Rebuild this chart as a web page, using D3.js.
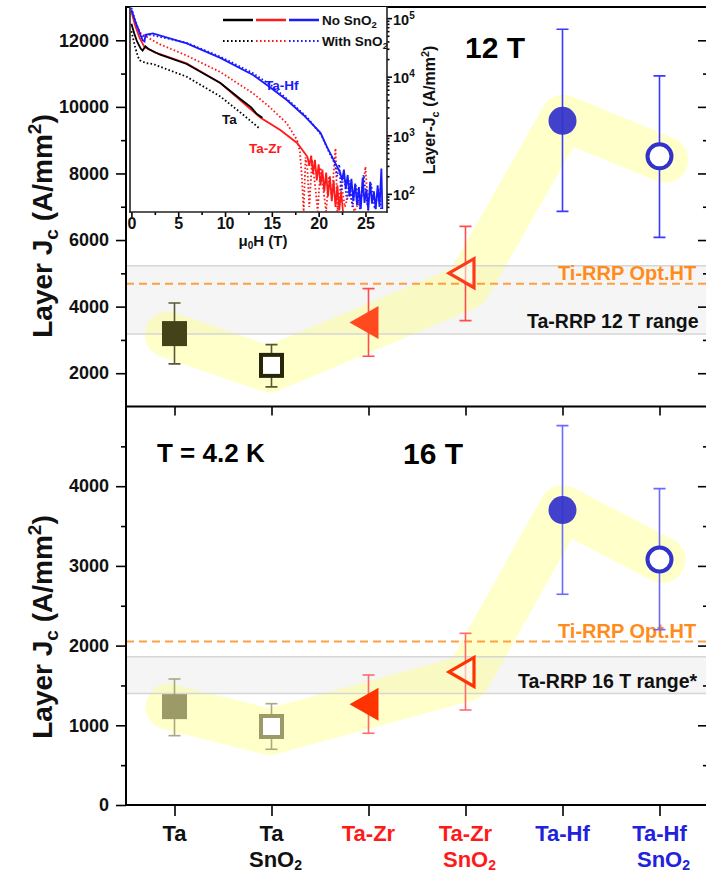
<!DOCTYPE html>
<html>
<head>
<meta charset="utf-8">
<script src="https://cdn.jsdelivr.net/npm/d3@7"></script>
<style>
  body { margin: 0; background: #fff; }
  svg { font-family: "Liberation Sans", Arial, sans-serif; font-weight: bold; }
</style>
</head>
<body>
<svg id="chart" width="706" height="874"></svg>
<script>
// ---- data ----
const categories = ["Ta", "Ta", "Ta-Zr", "Ta-Zr", "Ta-Hf", "Ta-Hf"]
const withSnO2 = [false, true, false, true, false, true]

const jc12 = [3190, 2235, 3520, 5005, 9580, 8515]
const jc12Hi = [4110, 2860, 4540, 6410, 12330, 10930]
const jc12Lo = [2280, 1590, 2510, 3580, 6860, 6080]

const jc16 = [1234, 985, 1263, 1669, 3700, 3080]
const jc16Hi = [1581, 1271, 1631, 2154, 4760, 3970]
const jc16Lo = [870, 699, 900, 1192, 2644, 2200]

// yellow guide band, [category position, Jc]
const band12 = [[-0.07, 3160], [0.98, 2110], [3.02, 4600], [4.01, 9670], [5.06, 8410]]
const band16 = [[-0.06, 1230], [0.98, 916], [3.02, 1594], [4.0, 3726], [5.03, 3074]]

const taRange12 = [3180, 5230], taRange16 = [1400, 1860]
const tiRRP12 = 4690, tiRRP16 = 2050

const ticks12 = [2000, 4000, 6000, 8000, 10000, 12000]
const ticks16 = [0, 1000, 2000, 3000, 4000]

// inset: [mu0H (T), layer Jc (A/mm2)]
const insetTa = [[0,80000],[0.3,55000],[0.6,40000],[1.0,30000],[1.2,28000],[1.5,33000],[1.8,30000],[3,24000],[5.9,16500],[9.5,7800],[11.6,4200],[12.8,3000],[13.4,2300],[14.0,2000]]
const insetTaSn = [[0,60000],[0.4,32000],[0.7,22000],[0.9,19000],[1.6,17000],[2.3,16500],[5.9,10000],[9.5,4600],[12.0,2200],[13.7,1300]]
const insetZr = [[0,130000],[0.4,75000],[0.9,45000],[1.4,32000],[2.5,26000],[5.9,17000],[9.5,7800],[11.6,4000],[13.8,2000],[15.9,1230],[17.7,740],[18.8,430],
  [19.0,300],[19.2,450],[19.4,220],[19.6,380],[19.8,170],[20.0,320],[20.2,140],[20.4,260],[20.6,110],[20.8,230],[21.0,90],[21.2,200],[21.4,75],[21.6,170],[21.8,60],[22.0,140],[22.2,52],[22.4,110],[22.6,50]]
const insetZrSn = [[0,130000],[0.5,80000],[1.0,55000],[1.6,48000],[3,36000],[5.9,23000],[9.5,12000],[13.0,5200],[14.8,3000],[16.6,1600],[17.7,830],
  [18.0,520],[18.2,200],[18.4,50],[18.6,420],[18.8,260],[19.0,60],[19.3,380],[19.6,150],[19.9,50],[20.2,280],[20.5,120],[20.8,50],[21.1,200],[21.4,90],[21.8,600],[22.0,50],[22.4,160],[22.8,60],[23.3,110],[23.8,50],[24.6,90],[25.0,290],[25.3,50]]
const insetHf = [[0,140000],[0.4,90000],[0.9,55000],[1.2,42000],[1.4,40000],[1.5,52000],[2.3,55000],[5.9,37000],[9.5,21000],[13.0,10700],[14.8,6600],[16.6,4000],[18.4,2200],[20.2,1100],[20.9,630],[21.6,380],[22.3,230],
  [22.5,170],[22.7,260],[22.9,120],[23.1,210],[23.3,90],[23.5,180],[23.7,75],[23.9,150],[24.1,65],[24.3,130],[24.5,55],[24.7,190],[24.9,70],[25.1,120],[25.3,52],[25.5,160],[25.7,68],[25.9,110],[26.1,55],[26.3,140],[26.5,60],[26.7,270],[26.8,55]]
const insetHfSn = [[0,150000],[0.5,80000],[0.9,55000],[1.3,48000],[2,52000],[5.9,38000],[9.5,22000],[13,11500],[15,7000],[17,3700],[18.8,2000],[20.3,1000],[21.0,560],[21.7,330],
  [22.0,200],[22.2,320],[22.4,110],[22.7,220],[23.0,80],[23.3,170],[23.6,60],[24.0,140],[24.4,55],[24.8,210],[25.2,65],[25.6,150],[26.0,55],[26.4,120],[26.7,50]]
const insetTicksX = [0, 5, 10, 15, 20, 25]
const insetTicksY = [100, 1000, 10000, 100000]

// ---- styles ----
const labelColors = ["#111", "#111", "#ff1a1a", "#ff1a1a", "#2222dd", "#2222dd"]
const shapes = ["square", "square", "triangle", "triangle", "circle", "circle"]
const markColors12 = ["#45421a", "#27260a", "#ff4a1f", "#ff3a1a", "#3333cc", "#3333cc"]
const errColors12 = ["#5a5830", "#5a5830", "#ff4d4d", "#ff4d4d", "#3a3aff", "#3a3aff"]
const markColors16 = ["#9c9a66", "#9c9a66", "#ff3300", "#ff3300", "#3333cc", "#3333cc"]
const errColors16 = ["#aaa87c", "#aaa87c", "#ff6a6a", "#ff6a6a", "#6a6aff", "#6a6aff"]

const svg = d3.select("#chart")
const L = 126, R = 708, T = 7, MID = 406.5, B = 805

const x = d3.scaleLinear().domain([-0.5, 5.5]).range([L, R])
const yTop = d3.scaleLinear().domain([1000, 13000]).range([MID, T])
const yBot = d3.scaleLinear().domain([0, 5000]).range([B, MID])

const drawPanel = (id, y, vals, hi, lo, band, range, tiRRP, rangeText, rangeX, tiY, rangeY, colors, errColors) => {
  svg.append("clipPath").attr("id", id).append("rect")
    .attr("x", L).attr("y", y.range()[1]).attr("width", R - L).attr("height", y.range()[0] - y.range()[1])
  const g = svg.append("g").attr("clip-path", `url(#${id})`)

  g.append("rect").attr("x", L).attr("width", R - L)
    .attr("y", y(range[1])).attr("height", y(range[0]) - y(range[1])).attr("fill", "#f5f5f5")

  g.append("path").datum(band)
    .attr("d", d3.line(d => x(d[0]), d => y(d[1])))
    .attr("fill", "none").attr("stroke", "#ffff80").attr("stroke-opacity", 0.42)
    .attr("stroke-width", 46).attr("stroke-linejoin", "round").attr("stroke-linecap", "round")

  g.selectAll("line.range").data(range).enter().append("line").classed("range", true)
    .attr("x1", L).attr("x2", R).attr("y1", d => y(d)).attr("y2", d => y(d))
    .attr("stroke", "#d6d6d6").attr("stroke-width", 1.5)

  g.append("line").attr("x1", L).attr("x2", R).attr("y1", y(tiRRP)).attr("y2", y(tiRRP))
    .attr("stroke", "#ffa040").attr("stroke-width", 2).attr("stroke-dasharray", "8,5")

  g.append("text").attr("x", 558).attr("y", tiY).attr("font-size", 20).attr("fill", "#ff8c1a").text("Ti-RRP Opt.HT")
  g.append("text").attr("x", rangeX).attr("y", rangeY).attr("font-size", 19.5).attr("fill", "#111").text(rangeText)

  // error bars
  const eb = g.selectAll("g.err").data(vals).enter().append("g").classed("err", true)
    .attr("stroke", (_, i) => errColors[i]).attr("stroke-width", 1.6)
  eb.append("line").attr("x1", (_, i) => x(i)).attr("x2", (_, i) => x(i))
    .attr("y1", (_, i) => y(hi[i])).attr("y2", (_, i) => y(lo[i]))
  eb.append("line").attr("x1", (_, i) => x(i) - 6).attr("x2", (_, i) => x(i) + 6)
    .attr("y1", (_, i) => y(hi[i])).attr("y2", (_, i) => y(hi[i]))
  eb.append("line").attr("x1", (_, i) => x(i) - 6).attr("x2", (_, i) => x(i) + 6)
    .attr("y1", (_, i) => y(lo[i])).attr("y2", (_, i) => y(lo[i]))

  // markers
  vals.forEach((v, i) => {
    const m = g.append("g").attr("transform", `translate(${x(i)},${y(v)})`)
    const open = withSnO2[i], c = colors[i]
    if (shapes[i] === "square") {
      if (open) m.append("rect").attr("x", -10.5).attr("y", -10.5).attr("width", 21).attr("height", 21)
        .attr("fill", "#fff").attr("stroke", c).attr("stroke-width", 4)
      else m.append("rect").attr("x", -12.5).attr("y", -12.5).attr("width", 25).attr("height", 25).attr("fill", c)
    } else if (shapes[i] === "triangle") {
      if (open) m.append("path").attr("d", "M-16.5,0L8.5,-14.5L8.5,14.5Z")
        .attr("fill", "#fff").attr("fill-opacity", 0.55).attr("stroke", c).attr("stroke-width", 3.2).attr("stroke-linejoin", "miter")
      else m.append("path").attr("d", "M-19,0L10,-16.5L10,16.5Z").attr("fill", c)
    } else {
      if (open) m.append("circle").attr("r", 12).attr("fill", "#fff").attr("stroke", c).attr("stroke-width", 4)
      else m.append("circle").attr("r", 14).attr("fill", c).attr("fill-opacity", 0.93)
    }
  })
}

drawPanel("clipTop", yTop, jc12, jc12Hi, jc12Lo, band12, taRange12, tiRRP12, "Ta-RRP 12 T range", 527, 280, 328, markColors12, errColors12)
drawPanel("clipBot", yBot, jc16, jc16Hi, jc16Lo, band16, taRange16, tiRRP16, "Ta-RRP 16 T range*", 518, 638, 688, markColors16, errColors16)

svg.append("text").attr("x", 465).attr("y", 58).attr("font-size", 30).text("12 T")
svg.append("text").attr("x", 403).attr("y", 464).attr("font-size", 30).text("16 T")
svg.append("text").attr("x", 157).attr("y", 462).attr("font-size", 26).text("T = 4.2 K")

// ---- main axes ----
const axisStyle = sel => {
  sel.select(".domain").remove()
  sel.selectAll("line").attr("stroke", "#000").attr("stroke-width", 1.6)
  sel.selectAll("text").attr("font-size", 18).attr("fill", "#111").attr("font-family", null)
}
const minor12 = [3000, 5000, 7000, 9000, 11000]
const minor16 = [500, 1500, 2500, 3500, 4500]

svg.append("g").attr("transform", `translate(${L},0)`)
  .call(d3.axisLeft(yTop).tickValues(ticks12).tickSize(10).tickPadding(7).tickFormat(d3.format("d"))).call(axisStyle)
svg.append("g").attr("transform", `translate(${L},0)`)
  .call(d3.axisLeft(yTop).tickValues(minor12).tickSize(5).tickFormat("")).call(axisStyle)
svg.append("g").attr("transform", `translate(${L},0)`)
  .call(d3.axisLeft(yBot).tickValues(ticks16).tickSize(10).tickPadding(7).tickFormat(d3.format("d"))).call(axisStyle)
svg.append("g").attr("transform", `translate(${L},0)`)
  .call(d3.axisLeft(yBot).tickValues(minor16).tickSize(5).tickFormat("")).call(axisStyle)

svg.append("g").attr("transform", `translate(${R},0)`)
  .call(d3.axisRight(yTop).tickValues(ticks12).tickSize(-10).tickFormat("")).call(axisStyle)
svg.append("g").attr("transform", `translate(${R},0)`)
  .call(d3.axisRight(yTop).tickValues(minor12).tickSize(-5).tickFormat("")).call(axisStyle)
svg.append("g").attr("transform", `translate(${R},0)`)
  .call(d3.axisRight(yBot).tickValues(ticks16.slice(1)).tickSize(-10).tickFormat("")).call(axisStyle)
svg.append("g").attr("transform", `translate(${R},0)`)
  .call(d3.axisRight(yBot).tickValues(minor16).tickSize(-5).tickFormat("")).call(axisStyle)

svg.append("g").attr("transform", `translate(0,${B})`)
  .call(d3.axisBottom(x).tickValues(d3.range(6)).tickSize(11).tickFormat("")).call(axisStyle)
svg.append("g").attr("transform", `translate(0,${MID})`)
  .call(d3.axisBottom(x).tickValues(d3.range(6)).tickSize(9).tickFormat("")).call(axisStyle)

// frame
;[[L, T, L, B], [R, T, R, B], [L, T, R, T], [L, MID, R, MID], [L, B, R, B]].forEach(([x1, y1, x2, y2]) =>
  svg.append("line").attr("x1", x1).attr("y1", y1).attr("x2", x2).attr("y2", y2)
    .attr("stroke", "#000").attr("stroke-width", 2).attr("stroke-linecap", "square"))

// category labels
const cat = svg.selectAll("g.cat").data(categories).enter().append("g").classed("cat", true)
  .attr("fill", (_, i) => labelColors[i]).attr("font-size", 22).attr("text-anchor", "middle")
cat.append("text").attr("x", (_, i) => x(i)).attr("y", 841).text(d => d)
cat.each(function (_, i) {
  if (!withSnO2[i]) return
  const t = d3.select(this).append("text").attr("x", x(i) + 4).attr("y", 867)
  t.append("tspan").text("SnO")
  t.append("tspan").text("2").attr("font-size", 14).attr("dy", 3)
})

// y titles
const yTitle = (cy, size, cx, sub) => {
  const t = svg.append("text").attr("transform", `translate(${cx},${cy}) rotate(-90)`)
    .attr("text-anchor", "middle").attr("font-size", size).attr("fill", "#111")
  t.append("tspan").text(sub ? "Layer-J" : "Layer J")
  t.append("tspan").text("c").attr("font-size", size * 0.68).attr("dy", size * 0.22)
  t.append("tspan").text(" (A/mm").attr("dy", -size * 0.22)
  t.append("tspan").text("2").attr("font-size", size * 0.68).attr("dy", -size * 0.4)
  t.append("tspan").text(")").attr("dy", size * 0.4)
}
yTitle(226, 28, 52, false)
yTitle(627, 28, 52, false)

// ---- inset ----
const ix = d3.scaleLinear().domain([-0.15, 27.3]).range([130, 387])
const iy = d3.scaleLog().domain([49, 155000]).range([212, T])

svg.append("rect").attr("x", 130).attr("y", T).attr("width", 257).attr("height", 205).attr("fill", "#fff")
svg.append("clipPath").attr("id", "clipInset").append("rect").attr("x", 130).attr("y", T).attr("width", 257).attr("height", 205)
const ig = svg.append("g").attr("clip-path", "url(#clipInset)")
const iline = d3.line(d => ix(d[0]), d => iy(d[1]))

const curves = [
  [insetTaSn, "#000", true], [insetZrSn, "#ff1a1a", true],
  [insetZr, "#ff1a1a", false], [insetTa, "#000", false],
  [insetHfSn, "#1a1aff", true], [insetHf, "#1a1aff", false]
]
curves.forEach(([data, color, dotted]) =>
  ig.append("path").datum(data).attr("d", iline).attr("fill", "none")
    .attr("stroke", color).attr("stroke-width", 1.8)
    .attr("stroke-dasharray", dotted ? "1.6,2.2" : null))

// legend
const legendColors = ["#000", "#ff1a1a", "#1a1aff"]
legendColors.forEach((c, i) => {
  ig.append("line").attr("x1", 223 + i * 33).attr("x2", 253 + i * 33).attr("y1", 20).attr("y2", 20)
    .attr("stroke", c).attr("stroke-width", 2.5)
  ig.append("line").attr("x1", 223 + i * 33).attr("x2", 253 + i * 33).attr("y1", 41).attr("y2", 41)
    .attr("stroke", c).attr("stroke-width", 2.2).attr("stroke-dasharray", "1.6,2.4")
})
const legText = (y, s) => {
  const t = svg.append("text").attr("x", 322).attr("y", y).attr("font-size", 13.5).attr("fill", "#111")
  t.append("tspan").text(s)
  t.append("tspan").text("2").attr("font-size", 9.5).attr("dy", 3)
}
legText(25, "No SnO")
legText(46, "With SnO")

svg.append("text").attr("x", 265).attr("y", 90).attr("font-size", 13.5).attr("fill", "#1a1aff").text("Ta-Hf")
svg.append("text").attr("x", 222).attr("y", 124).attr("font-size", 13.5).attr("fill", "#111").text("Ta")
svg.append("text").attr("x", 249).attr("y", 153).attr("font-size", 13.5).attr("fill", "#ff1a1a").text("Ta-Zr")

// inset axes
svg.append("g").attr("transform", "translate(0,212)")
  .call(d3.axisBottom(ix).tickValues(insetTicksX).tickSize(5).tickPadding(1))
  .call(axisStyle).call(s => s.selectAll("text").attr("font-size", 16))
svg.append("g").attr("transform", "translate(0,212)")
  .call(d3.axisBottom(ix).tickValues([2.5, 7.5, 12.5, 17.5, 22.5]).tickSize(3).tickFormat("")).call(axisStyle)

const minorLog = insetTicksY.slice(0, 3).flatMap(d => d3.range(2, 10).map(k => d * k))
  .concat([60, 70, 80, 90])
svg.append("g").attr("transform", "translate(387,0)")
  .call(d3.axisRight(iy).tickValues(minorLog).tickSize(2.5).tickFormat("")).call(axisStyle)
const ra = svg.append("g").attr("transform", "translate(387,0)")
  .call(d3.axisRight(iy).tickValues(insetTicksY).tickSize(5).tickPadding(1).tickFormat(""))
  .call(axisStyle)
ra.selectAll("g.tick").each(function (d) {
  const t = d3.select(this).append("text").attr("x", 6).attr("dy", "0.42em")
    .attr("font-size", 14.5).attr("fill", "#111")
  t.append("tspan").text("10")
  t.append("tspan").text(Math.round(Math.log10(d))).attr("font-size", 10).attr("dy", -6)
})

;[[130, T, 130, 212], [387, T, 387, 212], [130, 212, 387, 212]].forEach(([x1, y1, x2, y2]) =>
  svg.append("line").attr("x1", x1).attr("y1", y1).attr("x2", x2).attr("y2", y2)
    .attr("stroke", "#222").attr("stroke-width", 1.6).attr("stroke-linecap", "square"))

const xl = svg.append("text").attr("x", 263).attr("y", 246).attr("text-anchor", "middle").attr("font-size", 15).attr("fill", "#111")
xl.append("tspan").text("μ")
xl.append("tspan").text("0").attr("font-size", 10).attr("dy", 3)
xl.append("tspan").text("H (T)").attr("dy", -3)

yTitle(110, 16, 435, true)
</script>
</body>
</html>
